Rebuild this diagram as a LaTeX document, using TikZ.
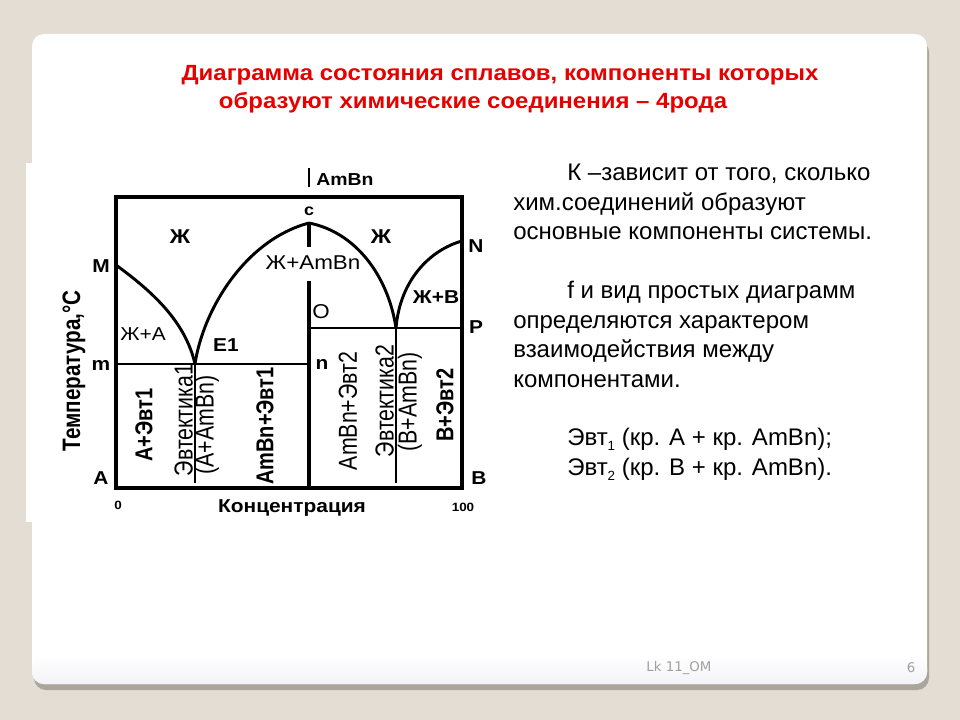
\documentclass[tikz,border=0pt]{standalone}
\usepackage{fontspec}
\setmainfont{Liberation Sans}
\newfontfamily\footfont{DejaVu Sans}
\usetikzlibrary{positioning}
\definecolor{slidebg}{RGB}{227,221,211}
\definecolor{shadowgray}{RGB}{170,166,155}
\definecolor{titlered}{RGB}{230,0,0}
\definecolor{footgray}{RGB}{160,160,160}
\definecolor{cardfade}{RGB}{243,243,248}
\newcommand{\lowidx}[1]{\raisebox{-4pt}{\fontsize{10}{12}\selectfont #1}}

\begin{document}
\begin{tikzpicture}[x=0.75pt,y=-0.75pt,
frame/.style={line width=2.5pt},
phase/.style={line width=2.1pt},
liquidus/.style={line width=2.2pt},
lbl/.style={font=\bfseries\fontsize{14}{16}\selectfont, inner sep=0pt, xscale=1.12},
lblr/.style={font=\fontsize{15}{17}\selectfont, inner sep=0pt, xscale=1.12},
vlbl/.style={xscale=1.22, rotate=90, font=\bfseries\fontsize{15}{17}\selectfont, inner sep=0pt},
vlblr/.style={xscale=1.22, rotate=90, font=\fontsize{16}{18}\selectfont, inner sep=0pt},
bodytext/.style={font=\fontsize{18}{22}\selectfont, inner sep=0pt, anchor=base west},
titletext/.style={font=\bfseries\fontsize{16.5}{19}\selectfont, text=titlered, inner sep=0pt, xscale=1.09}]
    \useasboundingbox (0,0) rectangle (960,720);
    % slide
    \fill[slidebg] (0,0) rectangle (960,720);
    \fill[shadowgray, rounded corners=9pt] (34,40) rectangle (929,690);
    \fill[white, rounded corners=9pt] (32,34) rectangle (927,684);
    \shade[top color=white, bottom color=cardfade, rounded corners=9pt] (32,656) rectangle (927,684);
    \fill[white] (26,163) rectangle (505,522);

    \node[titletext] (title1) at (500,75) {Диаграмма состояния сплавов, компоненты которых};
    \node[titletext] (title2) at (473,103) {образуют химические соединения -- 4рода};

    % diagram points
    \coordinate (A) at (116,488);
    \coordinate (B) at (462,488);
    \coordinate (M) at (116,265);
    \coordinate (N) at (462,241);
    \coordinate (c) at (309,223);
    \coordinate (E1) at (195,364);
    \coordinate (E2) at (396,328);
    \coordinate (m) at (116,364);
    \coordinate (n) at (309,364);
    \coordinate (O) at (309,328);
    \coordinate (P) at (462,328);

    \draw[frame] (116,197) rectangle (B);
    \draw[phase] (m) -- (n);
    \draw[phase] (O) -- (P);
    \draw[frame] (c) -- (309,247);
    \draw[frame] (309,281) -- (309,488);
    \draw[phase] (E1) -- (195,483);
    \draw[phase] (E2) -- (396,483);
    \draw[liquidus] (M) .. controls (150,290) and (185,320) .. (E1);
    \draw[liquidus] (E1) .. controls (203,310) and (245,240) .. (c);
    \draw[liquidus] (c) .. controls (355,232) and (388,275) .. (E2);
    \draw[liquidus] (E2) .. controls (400,280) and (430,250) .. (N);
    \draw[line width=1.1pt] (309,168) -- (309,187);

    % labels
    \node[lbl, font=\bfseries\fontsize{13}{15}\selectfont] (lAmBn) at (345,180) {AmBn};
    \node[lbl, font=\bfseries\fontsize{12}{14}\selectfont] (lc) at (309,211) {c};
    \node[lbl, font=\bfseries\fontsize{15}{17}\selectfont] (lL1) at (180,237) {Ж};
    \node[lbl, font=\bfseries\fontsize{15}{17}\selectfont] (lL2) at (381,237) {Ж};
    \node[lblr] (lLAmBn) at (313,263) {Ж+AmBn};
    \node[lblr, font=\fontsize{14}{16}\selectfont] (lLA) at (143,334) {Ж+A};
    \node[lbl] (lLB) at (436,297) {Ж+B};
    \node[lbl] (lE1) at (226,345) {E1};
    \node[lbl] (lM) at (101,266) {M};
    \node[lbl] (lN) at (476,246) {N};
    \node[lbl] (lP) at (476,327) {P};
    \node[lblr] (lO) at (321,312) {O};
    \node[lbl] (lm) at (101,365) {m};
    \node[lbl] (ln) at (322,364) {n};
    \node[lbl] (lA) at (101,478) {A};
    \node[lbl] (lB) at (479,478) {B};
    \node[lbl, font=\bfseries\fontsize{9}{11}\selectfont] (l0) at (118,505) {0};
    \node[lbl, font=\bfseries\fontsize{9}{11}\selectfont] (l100) at (463,507) {100};
    \node[lbl] (lconc) at (292,508) {Концентрация};
    \node[vlbl, font=\bfseries\fontsize{15.5}{17}\selectfont] (ltemp) at (74,371) {Температура,°С};

    \node[vlbl] (lAe1) at (144,425) {А+Эвт1};
    \node[vlblr, anchor=base] (leut1) at (192.5,420) {Эвтектика1};
    \node[vlblr] (lAAmBn) at (207,425) {(А+AmBn)};
    \node[vlbl] (lAmBne1) at (265,426) {AmBn+Эвт1};
    \node[vlblr] (lAmBne2) at (348,411) {AmBn+Эвт2};
    \node[vlblr, anchor=base] (leut2) at (393.5,401) {Эвтектика2};
    \node[vlblr] (lBAmBn) at (410,402) {(B+AmBn)};
    \node[vlbl] (lBe2) at (445,405) {B+Эвт2};

    % text on the right
    \node[bodytext] (t1) at (567,181) {К --зависит от того, сколько};
    \node[bodytext] (t2) at (513,210.5) {хим.соединений образуют};
    \node[bodytext] (t3) at (513,240) {основные компоненты системы.};
    \node[bodytext] (t4) at (567,299) {f и вид простых диаграмм};
    \node[bodytext] (t5) at (513,328) {определяются характером};
    \node[bodytext] (t6) at (513,357.5) {взаимодействия между};
    \node[bodytext] (t7) at (513,387) {компонентами.};
    \node[bodytext] (t8) at (567,445.5) {Эвт\lowidx{1} (кр. А + кр. AmBn);};
    \node[bodytext] (t9) at (567,475) {Эвт\lowidx{2} (кр. В + кр. AmBn).};

    % footer
    \node[font=\footfont\fontsize{10}{12}\selectfont, text=footgray, inner sep=0pt] (foot) at (679,668) {Lk 11\_OM};
    \node[font=\footfont\fontsize{10}{12}\selectfont, text=footgray, inner sep=0pt] (page) at (911,668) {6};
\end{tikzpicture}
\end{document}
